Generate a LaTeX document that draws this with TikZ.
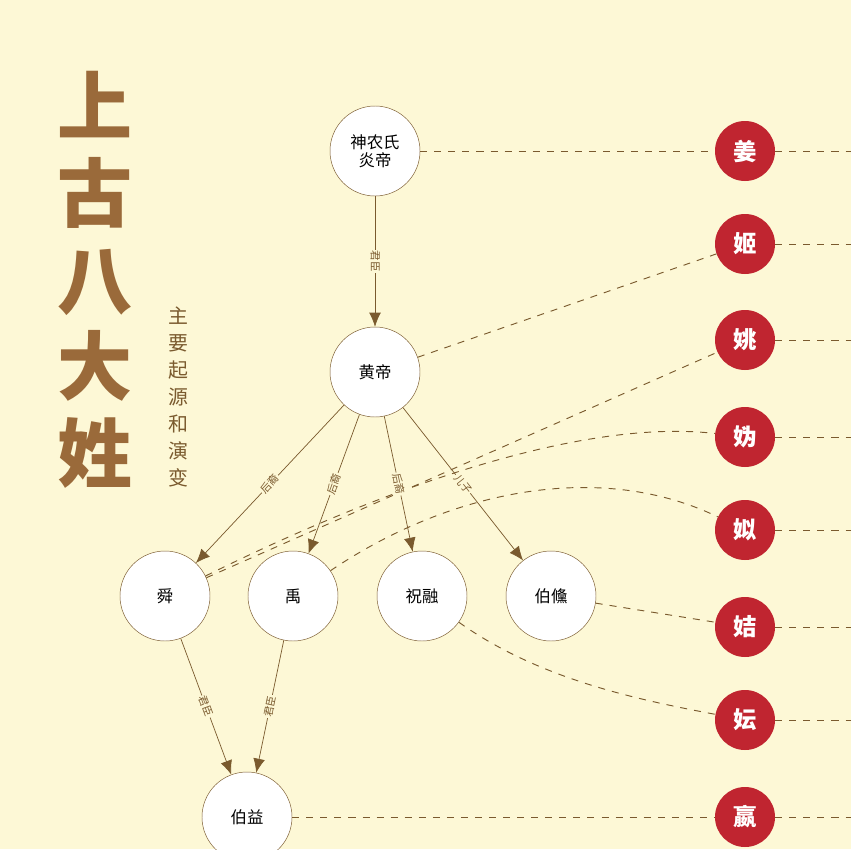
\documentclass[tikz,border=0pt]{standalone}
\usepackage{fontspec}
\setmainfont{Noto Sans CJK SC}
\usetikzlibrary{arrows.meta}
\definecolor{paper}{HTML}{FDF8D6}
\definecolor{brn}{HTML}{7A5A2E}
\definecolor{title}{HTML}{9A6A3A}
\definecolor{seal}{HTML}{C02530}
\newlength{\pxunit}\setlength{\pxunit}{0.3mm}
\tikzset{
  person/.style={circle,draw=brn,fill=white,minimum size=90\pxunit,inner sep=0pt,font=\fontsize{14}{15}\selectfont,align=center},
  clan/.style={circle,fill=seal,text=white,minimum size=60\pxunit,inner sep=0pt,font=\fontsize{20}{20}\selectfont\bfseries},
  link/.style={draw=brn,-{Latex[length=12pt,width=10pt]},line width=0.6pt},
  tag/.style={sloped,fill=paper,inner sep=1pt,text=brn,font=\fontsize{9}{9}\selectfont},
  trace/.style={draw=brn,dash pattern=on 6pt off 6pt,line width=0.8pt}
}
\begin{document}
\begin{tikzpicture}[x=0.3mm,y=-0.3mm]
\fill[paper] (0,0) rectangle (851,849);
\useasboundingbox (0,0) rectangle (851,849);
% title
\node[text=title,font=\fontsize{64}{74}\selectfont\bfseries,align=center] (ttl) at (95,280) {上\\古\\八\\大\\姓};
\node[text=brn,font=\fontsize{17}{23}\selectfont,align=center] (sub) at (178,397) {主\\要\\起\\源\\和\\演\\变};
% people
\node(sn) at (375,151)[person]{神农氏\\炎帝};
\node(hd) at (375,372)[person]{黄帝};
\node(shun) at (165,596)[person]{舜};
\node(yu) at (293,596)[person]{禹};
\node(zr) at (422,596)[person]{祝融};
\node(bs) at (551,596)[person]{伯儵};
\node(by) at (247,817)[person]{伯益};
% clans
\foreach \n/\t/\y in {jiang/姜/151,ji/姬/244,yao/姚/340,gui/妫/437,si/姒/530,jie/姞/627,yun/妘/720,ying/嬴/817}{
  \node(\n) at (745,\y)[clan]{\t};
  \coordinate(\n e) at (851,\y);
  \draw[trace] (\n) -- (\n e);
}
% surnames
\draw[trace] (sn) -- (jiang);
\draw[trace] (hd) -- (ji);
\draw[trace] (shun) -- (yao);
\draw[trace] (shun) .. controls (420,470) and (600,420) .. (gui);
\draw[trace] (yu) .. controls (450,490) and (600,460) .. (si);
\draw[trace] (bs) -- (jie);
\draw[trace] (zr) .. controls (540,680) and (640,700) .. (yun);
\draw[trace] (by) -- (ying);
% descent
\draw[link] (sn) to node[tag]{君臣} (hd);
\draw[link] (hd) to node[tag,pos=0.5]{后裔} (shun);
\draw[link] (hd) to node[tag,pos=0.5]{后裔} (yu);
\draw[link] (hd) to node[tag,pos=0.5]{后裔} (zr);
\draw[link] (hd) to node[tag,pos=0.5]{儿子} (bs);
\draw[link] (shun) to node[tag]{君臣} (by);
\draw[link] (yu) to node[tag]{君臣} (by);
\end{tikzpicture}
\end{document}
